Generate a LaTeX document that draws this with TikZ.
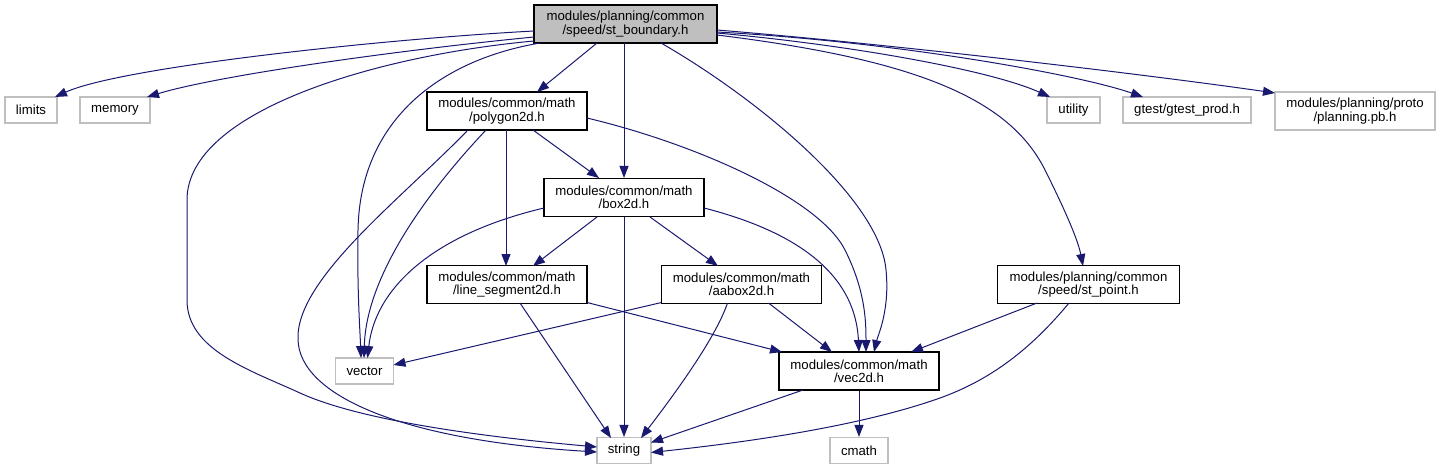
\documentclass[tikz,border=0pt]{standalone}
\usepackage{fontspec}
\setmainfont{Liberation Sans}
\usetikzlibrary{arrows.meta,calc}
\definecolor{edgecol}{RGB}{25,25,112}
\definecolor{extgray}{RGB}{191,191,191}
\begin{document}
\begin{tikzpicture}[x=1pt,y=-1pt,
  every node/.style={font=\fontsize{13.2}{13.2}\selectfont, inner sep=0pt, align=center},
  hdr/.style={draw=black, fill=white, line width=1.1pt, minimum height=38pt},
  ext/.style={draw=extgray, fill=white, line width=1.1pt, minimum height=26pt},
  rootbox/.style={draw=black, fill=extgray, line width=1.1pt, minimum height=38pt},
  dep/.style={draw=edgecol, line width=1pt, -{Triangle[length=12pt,width=9pt]}}]
\useasboundingbox (0,0) rectangle (1440,469);
% nodes
\node[rootbox, minimum width=183pt] (root) at (625.5,24) {modules/planning/common\\/speed/st\_boundary.h};
\node[ext, minimum width=52pt] (limits) at (31,110) {limits};
\node[ext, minimum width=70pt] (memory) at (115,110) {memory};
\node[hdr, minimum width=160pt] (polygon) at (507,111) {modules/common/math\\/polygon2d.h};
\node[ext, minimum width=53pt] (utility) at (1073.5,110) {utility};
\node[ext, minimum width=128pt] (gtest) at (1187,110) {gtest/gtest\_prod.h};
\node[ext, minimum width=160pt, minimum height=38pt] (planning) at (1355,111) {modules/planning/proto\\/planning.pb.h};
\node[hdr, minimum width=160pt] (box) at (624,197.5) {modules/common/math\\/box2d.h};
\node[hdr, minimum width=160pt] (lineseg) at (507,284.5) {modules/common/math\\/line\_segment2d.h};
\node[hdr, minimum width=160pt] (aabox) at (741.5,284.5) {modules/common/math\\/aabox2d.h};
\node[hdr, minimum width=182pt] (stpoint) at (1088.5,284.5) {modules/planning/common\\/speed/st\_point.h};
\node[ext, minimum width=58pt] (vector) at (364.5,371) {vector};
\node[hdr, minimum width=160pt] (vec) at (859,371) {modules/common/math\\/vec2d.h};
\node[ext, minimum width=54pt] (string) at (624,450.5) {string};
\node[ext, minimum width=58pt] (cmath) at (859,450.5) {cmath};
% root edges
\draw[dep] ($(root)+(-91.5,7)$) .. controls (384,39) and (121,67) .. ($(limits)+(24,-13)$);
\draw[dep] ($(root)+(-91.5,13)$) .. controls (400,50) and (220,75) .. ($(memory)+(32,-13)$);
\draw[dep] ($(root)+(-28.5,19)$) -- ($(polygon)+(30,-19)$);
\draw[dep] ($(root)+(-1.5,19)$) -- (box.north);
\draw[dep] ($(root)+(-85.5,19)$) .. controls (440,60) and (360,120) .. (358,230) .. controls (357,290) and (360,330) .. ($(vector)+(-3.5,-13)$);
\draw[dep] ($(root)+(-91.5,17)$) .. controls (380,55) and (187,110) .. (187,200) -- (187,300) .. controls (187,350) and (250,370) .. (300,393) .. controls (370,425) and (520,440) .. ($(string)+(-27,-3.5)$);
\draw[dep] ($(root)+(35.5,19)$) .. controls (760,100) and (880,200) .. (886,270) .. controls (890,310) and (878,335) .. ($(vec)+(15,-19)$);
\draw[dep] ($(root)+(91.5,9)$) .. controls (850,45) and (990,70) .. ($(utility)+(-23.5,-13)$);
\draw[dep] ($(root)+(91.5,8)$) .. controls (900,42) and (1080,75) .. ($(gtest)+(-44,-13)$);
\draw[dep] ($(root)+(91.5,6)$) .. controls (900,45) and (1150,75) .. ($(planning)+(-80,-18)$);
\draw[dep] ($(root)+(91.5,11)$) .. controls (920,60) and (1010,100) .. (1045,170) .. controls (1065,210) and (1078,240) .. ($(stpoint)+(-5.5,-18.5)$);
% polygon2d edges
\draw[dep] ($(polygon)+(-21,19)$) .. controls (420,200) and (366,280) .. ($(vector)+(-0.5,-13)$);
\draw[dep] ($(polygon)+(-39,19)$) .. controls (400,200) and (295,280) .. (298,340) .. controls (300,395) and (400,440) .. ($(string)+(-27,1.5)$);
\draw[dep] ($(polygon)+(-1,19)$) -- ($(lineseg)+(-1,-18.5)$);
\draw[dep] ($(polygon)+(26,19)$) -- ($(box)+(-25,-19.5)$);
\draw[dep] ($(polygon)+(80,7)$) .. controls (700,145) and (820,200) .. (845,250) .. controls (865,290) and (866,320) .. ($(vec)+(7,-19)$);
% box2d edges
\draw[dep] ($(box)+(-80,10.5)$) .. controls (430,235) and (375,290) .. ($(vector)+(3,-13)$);
\draw[dep] ($(box)+(-27,19.5)$) -- ($(lineseg)+(26,-18.5)$);
\draw[dep] (box.south) -- (string.north);
\draw[dep] ($(box)+(26,19.5)$) -- ($(aabox)+(-23.5,-18.5)$);
\draw[dep] ($(box)+(80,10.5)$) .. controls (790,230) and (855,270) .. ($(vec)+(0,-19)$);
% line_segment2d edges
\draw[dep] ($(lineseg)+(13,18.5)$) -- ($(string)+(-13,-12.5)$);
\draw[dep] ($(lineseg)+(80,18)$) -- ($(vec)+(-77,-19)$);
% aabox2d edges
\draw[dep] ($(aabox)+(-80,18)$) -- ($(vector)+(29,-6)$);
\draw[dep] ($(aabox)+(-14,18.5)$) .. controls (715,340) and (670,400) .. ($(string)+(17,-12.5)$);
\draw[dep] ($(aabox)+(27,18.5)$) -- ($(vec)+(-27,-19)$);
% st_point edges
\draw[dep] ($(stpoint)+(-51.5,18.5)$) -- ($(vec)+(52,-19)$);
\draw[dep] ($(stpoint)+(-19.5,18.5)$) .. controls (1030,350) and (990,380) .. (940,398) .. controls (850,430) and (720,445) .. ($(string)+(27,2)$);
% vec2d edges
\draw[dep] ($(vec)+(-56,19)$) -- ($(string)+(27,-8)$);
\draw[dep] (vec.south) -- (cmath.north);
\end{tikzpicture}
\end{document}
